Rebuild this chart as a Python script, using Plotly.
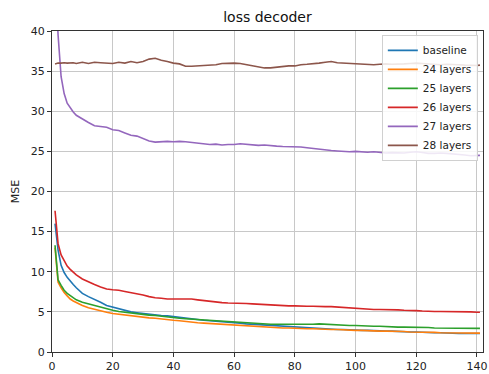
import plotly.graph_objects as go

epochs = [1, 2, 3, 4, 5, 6, 7, 8] + list(range(10, 141, 2)) + [141]

baseline = [16.0, 12.7, 10.8, 9.9, 9.3, 8.8, 8.4, 8.0, 7.3, 6.9, 6.6, 6.2, 5.8, 5.6, 5.4, 5.2, 5.0, 4.9, 4.8, 4.7,
            4.6, 4.55, 4.5, 4.4, 4.3, 4.2, 4.1, 4.0, 3.95, 3.9, 3.85, 3.8, 3.7, 3.65, 3.6, 3.5, 3.45, 3.4, 3.35, 3.3,
            3.25, 3.2, 3.15, 3.1, 3.05, 3.0, 2.95, 2.9, 2.9, 2.85, 2.8, 2.8, 2.75, 2.75, 2.7, 2.7, 2.65, 2.6, 2.6, 2.6,
            2.55, 2.55, 2.5, 2.5, 2.45, 2.45, 2.4, 2.4, 2.35, 2.35, 2.3, 2.3, 2.3, 2.3, 2.3]
layers24 = [13.0, 8.7, 8.0, 7.4, 7.0, 6.6, 6.35, 6.15, 5.8, 5.5, 5.3, 5.1, 4.95, 4.8, 4.7, 4.6, 4.5, 4.4, 4.3, 4.25,
            4.2, 4.1, 4.05, 3.95, 3.9, 3.8, 3.7, 3.65, 3.6, 3.55, 3.5, 3.45, 3.4, 3.35, 3.3, 3.25, 3.2, 3.15, 3.1, 3.1,
            3.05, 3.0, 3.0, 2.95, 2.95, 2.9, 2.9, 2.85, 2.85, 2.8, 2.8, 2.75, 2.75, 2.7, 2.7, 2.65, 2.65, 2.6, 2.6, 2.6,
            2.55, 2.55, 2.5, 2.5, 2.5, 2.45, 2.45, 2.4, 2.4, 2.4, 2.35, 2.35, 2.35, 2.35, 2.35]
layers25 = [13.3, 9.0, 8.3, 7.7, 7.3, 7.0, 6.7, 6.5, 6.2, 6.0, 5.8, 5.6, 5.35, 5.2, 5.05, 4.95, 4.85, 4.75, 4.7, 4.6,
            4.55, 4.45, 4.35, 4.3, 4.2, 4.15, 4.1, 4.05, 4.0, 3.95, 3.9, 3.85, 3.8, 3.75, 3.7, 3.65, 3.55, 3.5, 3.5, 3.45,
            3.45, 3.45, 3.4, 3.4, 3.4, 3.4, 3.45, 3.5, 3.45, 3.45, 3.4, 3.35, 3.3, 3.3, 3.25, 3.25, 3.2, 3.2, 3.15, 3.1,
            3.1, 3.1, 3.1, 3.1, 3.05, 3.05, 3.0, 3.0, 3.0, 2.95, 2.95, 2.95, 2.95, 2.95, 2.95]
layers26 = [17.6, 13.5, 12.1, 11.3, 10.7, 10.3, 9.9, 9.6, 9.1, 8.7, 8.4, 8.1, 7.85, 7.75, 7.7, 7.55, 7.4, 7.3, 7.1, 6.9,
            6.75, 6.7, 6.6, 6.6, 6.6, 6.6, 6.6, 6.5, 6.4, 6.3, 6.2, 6.15, 6.1, 6.1, 6.05, 6.05, 6.0, 5.95, 5.9, 5.85,
            5.8, 5.8, 5.75, 5.75, 5.7, 5.7, 5.7, 5.65, 5.65, 5.65, 5.6, 5.55, 5.5, 5.4, 5.35, 5.35, 5.3, 5.3, 5.3, 5.3,
            5.25, 5.2, 5.2, 5.15, 5.1, 5.05, 5.05, 5.05, 5.05, 5.05, 5.05, 5.0, 5.0, 4.95, 4.95]
layers27 = [48.0, 39.5, 34.3, 32.2, 31.0, 30.4, 29.9, 29.5, 29.0, 28.6, 28.2, 28.1, 28.0, 27.7, 27.6, 27.3, 27.0, 26.9,
            26.6, 26.3, 26.15, 26.2, 26.25, 26.2, 26.25, 26.2, 26.1, 26.0, 25.95, 25.85, 25.9, 25.8, 25.85, 25.85, 25.95,
            25.9, 25.8, 25.75, 25.8, 25.7, 25.65, 25.6, 25.6, 25.6, 25.55, 25.45, 25.35, 25.3, 25.15, 25.1, 25.05, 25.0,
            24.95, 25.0, 24.95, 24.9, 24.95, 24.85, 24.8, 24.85, 24.8, 24.8, 24.9, 24.95, 24.85, 24.75, 24.75, 24.8,
            24.75, 24.7, 24.65, 24.55, 24.45, 24.45, 24.5]
layers28 = [35.9, 36.0, 36.0, 36.05, 36.0, 36.05, 36.05, 35.95, 36.1, 35.95, 36.1, 36.05, 36.0, 35.95, 36.1, 36.0,
            36.2, 36.05, 36.2, 36.5, 36.6, 36.35, 36.2, 36.0, 35.9, 35.6, 35.6, 35.65, 35.75, 35.8, 35.8, 35.95, 36.0,
            36.0, 35.95, 35.8, 35.7, 35.55, 35.4, 35.4, 35.5, 35.6, 35.65, 35.65, 35.8, 35.85, 35.9, 36.0, 36.1, 36.2,
            36.05, 36.0, 35.95, 35.9, 35.85, 35.8, 35.8, 35.85, 35.9, 35.85, 35.85, 35.9, 35.95, 36.0, 35.95, 35.9,
            35.85, 35.8, 35.85, 35.85, 35.8, 35.75, 35.7, 35.7, 35.75]

names = ["baseline", "24 layers", "25 layers", "26 layers", "27 layers", "28 layers"]
series = [baseline, layers24, layers25, layers26, layers27, layers28]
colors = ["#1f77b4", "#ff7f0e", "#2ca02c", "#d62728", "#9467bd", "#8c564b"]

x_ticks = [0, 20, 40, 60, 80, 100, 120, 140]
y_ticks = [0, 5, 10, 15, 20, 25, 30, 35, 40]

fig = go.Figure()
for name, vals, col in zip(names, series, colors):
    fig.add_trace(go.Scatter(x=epochs, y=vals, mode="lines", name=name,
                             line=dict(color=col, width=1.6)))

font = "DejaVu Sans, sans-serif"
axis_common = dict(showline=True, linecolor="#333333", linewidth=1, mirror=True,
                   ticks="outside", ticklen=4, tickcolor="#333333", automargin=False,
                   showgrid=True, gridcolor="#c8c8c8", gridwidth=1, zeroline=False,
                   tickfont=dict(family=font, size=11, color="#222222"))

fig.update_layout(
    width=489, height=374,
    margin=dict(l=52, r=6, t=31, b=22, pad=0),
    paper_bgcolor="white", plot_bgcolor="white",
    title=dict(text="loss decoder", x=0.547, xanchor="center", y=0.955, yanchor="middle",
               font=dict(family=font, size=14, color="#111111")),
    xaxis=dict(range=[0, 142], tickvals=x_ticks, **axis_common),
    yaxis=dict(range=[0, 40], tickvals=y_ticks,
               title=dict(text="MSE", font=dict(family=font, size=11, color="#222222"), standoff=8),
               **axis_common),
    legend=dict(x=0.988, xanchor="right", y=0.988, yanchor="top",
                bgcolor="rgba(255,255,255,0.85)", bordercolor="#d0d0d0", borderwidth=1,
                font=dict(family=font, size=10.5, color="#222222"),
                tracegroupgap=0, itemwidth=30),
    showlegend=True,
)

fig.write_html("out.html")
